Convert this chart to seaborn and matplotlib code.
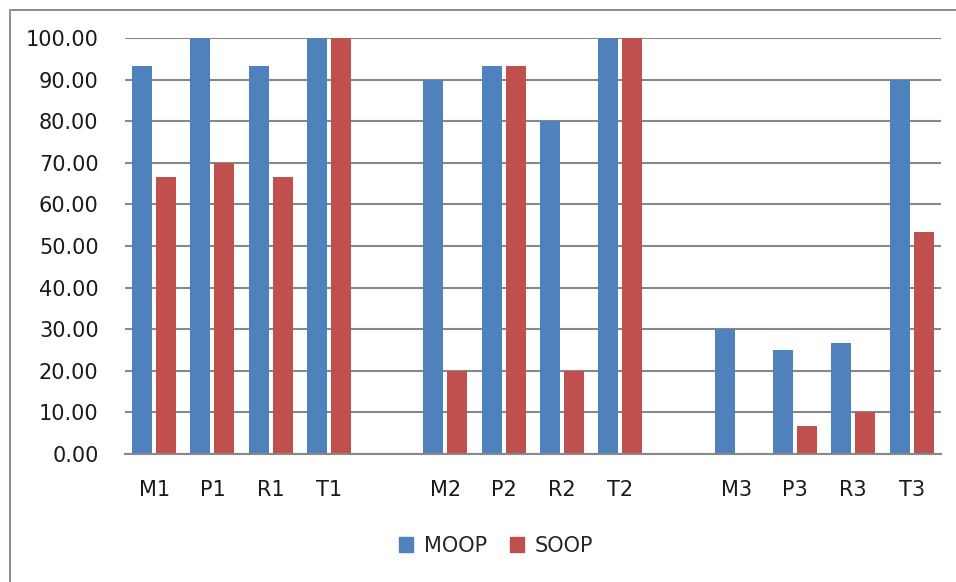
import matplotlib
matplotlib.use("Agg")
import matplotlib.pyplot as plt
import matplotlib.lines as mlines
import matplotlib.patches as mpatches
import numpy as np
import pandas as pd
import seaborn as sns

# Category slots (blank slots separate the three groups)
categories = ["M1", "P1", "R1", "T1", " ", "M2", "P2", "R2", "T2", "  ", "M3", "P3", "R3", "T3"]
moop = [93.33, 100.00, 93.33, 100.00, np.nan, 90.00, 93.33, 80.00, 100.00, np.nan, 30.00, 25.00, 26.67, 90.00]
soop = [66.67, 70.00, 66.67, 100.00, np.nan, 20.00, 93.33, 20.00, 100.00, np.nan, 0.00, 6.67, 10.00, 53.33]
series = ["MOOP", "SOOP"]
colors = ["#4F81BD", "#C0504D"]
yticks = [0, 10, 20, 30, 40, 50, 60, 70, 80, 90, 100]

df = pd.DataFrame({
    "cat": categories * 2,
    "value": moop + soop,
    "series": [series[0]] * len(categories) + [series[1]] * len(categories),
})

sns.set_style("white")
plt.rcParams["font.family"] = ["DejaVu Sans"]

fig = plt.figure(figsize=(9.56, 5.82), dpi=100)
ax = fig.add_axes([125 / 956, 1 - 454 / 582, (940.7 - 125) / 956, (454 - 38) / 582])

sns.barplot(data=df, x="cat", y="value", hue="series", order=categories,
            hue_order=series, palette=colors, width=0.824, gap=0.167,
            saturation=1, ax=ax, legend=False, linewidth=0)

ax.set_xlim(-0.5, len(categories) - 0.5)
ax.set_ylim(0, 100)
ax.set_yticks(yticks)
ax.set_yticklabels([f"{v:.2f}" for v in yticks])
ax.set_xlabel("")
ax.set_ylabel("")
ax.yaxis.grid(True, color="#888888", linewidth=1.5)
ax.set_axisbelow(True)
for side in ["left", "right", "top"]:
    ax.spines[side].set_visible(False)
ax.spines["bottom"].set_color("#888888")
ax.spines["bottom"].set_linewidth(1.5)
ax.tick_params(axis="y", length=0, pad=19, labelsize=15, labelcolor="#1a1a1a")
ax.tick_params(axis="x", length=0, pad=19, labelsize=15, labelcolor="#1a1a1a")

handles = [mpatches.Patch(color=c, label=s) for c, s in zip(colors, series)]
fig.legend(handles=handles, loc="center", bbox_to_anchor=(496 / 956, 1 - 546 / 582),
           ncol=2, frameon=False, fontsize=15, handlelength=0.7, handleheight=0.7,
           handletextpad=0.5, columnspacing=1.1)

# Chart frame (left and top edges)
fig.add_artist(mlines.Line2D([10 / 956, 10 / 956, 1.0], [0.0, 1 - 10 / 582, 1 - 10 / 582],
                             transform=fig.transFigure, color="#8C8C8C", linewidth=1.4))

fig.savefig("out.png", dpi=100)
